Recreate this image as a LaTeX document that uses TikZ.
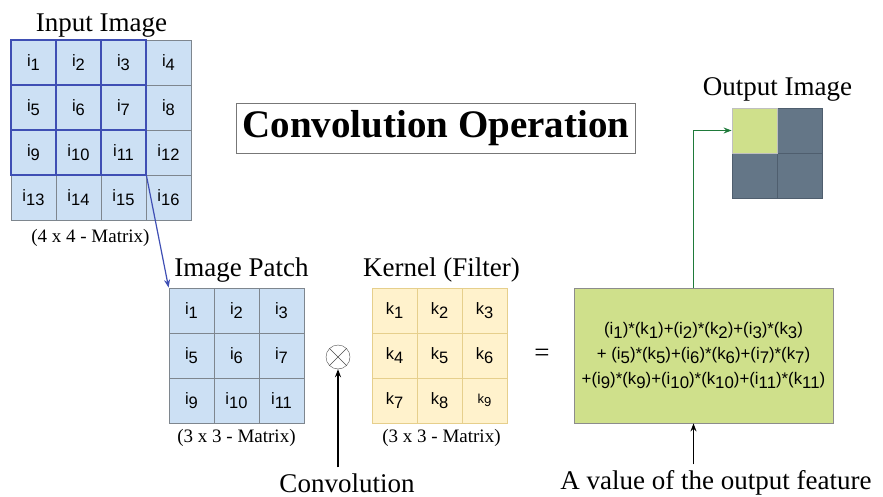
\documentclass[tikz,border=0pt]{standalone}
\usepackage{fontspec}
\setmainfont{Liberation Serif}
\setsansfont{Liberation Sans}
\usepackage{xcolor}
\usepackage{tikz}
\usetikzlibrary{arrows.meta,positioning}
\definecolor{patchblue}{HTML}{CCE0F4}
\definecolor{cellline}{HTML}{7E868E}
\definecolor{hiblue}{HTML}{3F4FB4}
\definecolor{kernfill}{HTML}{FFF2CC}
\definecolor{kernline}{HTML}{E6CF8C}
\definecolor{resgreen}{HTML}{CFE08B}
\definecolor{outgray}{HTML}{647687}
\definecolor{outline}{HTML}{4F5E6E}
\definecolor{okgreen}{HTML}{1F7A3A}
\definecolor{framegray}{HTML}{777777}
\newcommand{\idx}[2]{#1\raisebox{-0.25em}{#2}}

\begin{document}
\begin{tikzpicture}[
    x=1pt,y=-1pt,
    cell/.style={draw=cellline,line width=0.8pt,minimum size=45pt,inner sep=0pt,font=\sffamily\fontsize{16.5}{16.5}\selectfont},
    incell/.style={cell,fill=patchblue},
    kcell/.style={cell,fill=kernfill,draw=kernline},
    ocell/.style={draw=outline,line width=0.8pt,minimum size=45pt,inner sep=0pt,fill=outgray},
    heading/.style={inner sep=0pt,font=\fontsize{27}{27}\selectfont},
    sizenote/.style={inner sep=0pt,font=\fontsize{19}{19}\selectfont},
    hilite/.style={draw=hiblue,line width=2pt},
    arrow/.style={-{Stealth[length=8pt,width=6pt]},line width=1.3pt}
  ]
    \useasboundingbox (0,0) rectangle (883,497);

    \foreach \r in {1,...,4}
      \foreach \c in {1,...,4} {
        \pgfmathtruncatemacro{\n}{4*(\r-1)+\c}
        \node[incell] (in-\r-\c) at ({33.5+45*(\c-1)},{62.5+45*(\r-1)}) {\idx{i}{\n}};
      }
    \foreach \r in {1,...,3}
      \foreach \c in {1,...,3}
        \draw[hilite] (in-\r-\c.north west) rectangle (in-\r-\c.south east);
    \node[heading,above=2pt of in-1-2.north east] (inttl) {Input Image};
    \node[sizenote,below=9pt of in-4-2.south east,xshift=-11pt] (insz) {(4 x 4 - Matrix)};

    \node[draw=framegray,line width=0.8pt,minimum width=399pt,minimum height=50pt,
      font=\bfseries\fontsize{39}{39}\selectfont] (head) at (436,128) {Convolution Operation};

    \foreach \r in {1,...,3}
      \foreach \c in {1,...,3} {
        \pgfmathtruncatemacro{\n}{4*(\r-1)+\c}
        \node[incell] (pt-\r-\c) at ({191.5+45*(\c-1)},{310.5+45*(\r-1)}) {\idx{i}{\n}};
      }
    \node[heading,above=5pt of pt-1-2,xshift=5pt] (ptttl) {Image Patch};
    \node[sizenote,below=6pt of pt-3-2] (ptsz) {(3 x 3 - Matrix)};
    \draw[arrow,hiblue,line width=1.2pt] (in-3-3.south east) -- (pt-1-1.north west);

    \foreach \r in {1,...,3}
      \foreach \c in {1,...,3} {
        \pgfmathtruncatemacro{\n}{3*(\r-1)+\c}
        \node[kcell] (kn-\r-\c) at ({394.5+45*(\c-1)},{310.5+45*(\r-1)})
          {\ifnum\n=9 {\fontsize{13}{13}\selectfont\idx{k}{9}}\else\idx{k}{\n}\fi};
      }
    \node[heading,above=5pt of kn-1-2,xshift=2pt] (knttl) {Kernel (Filter)};
    \node[sizenote,below=6pt of kn-3-2,xshift=2pt] (knsz) {(3 x 3 - Matrix)};

    \node[draw=black!70,circle,minimum size=24pt,inner sep=0pt] (conv) at (338,357) {};
    \draw[black!70] (conv.north west) -- (conv.south east) (conv.north east) -- (conv.south west);
    \node[heading,inner sep=6pt] (convlbl) at (347,483) {Convolution};
    \draw[arrow] (conv.south |- convlbl.north) -- (conv.south);

    \node[font=\fontsize{27}{27}\selectfont] (eq) at (542,355) {=};

    \node[draw=black!45,fill=resgreen,line width=0.8pt,minimum width=259pt,minimum height=135pt,
      align=center,font=\sffamily\fontsize{16.8}{25}\selectfont] (res) at (703.5,355.5)
      {(\idx{i}{1})*(\idx{k}{1})+(\idx{i}{2})*(\idx{k}{2})+(\idx{i}{3})*(\idx{k}{3})\\
       + (\idx{i}{5})*(\idx{k}{5})+(\idx{i}{6})*(\idx{k}{6})+(\idx{i}{7})*(\idx{k}{7})\\
       +(\idx{i}{9})*(\idx{k}{9})+(\idx{i}{10})*(\idx{k}{10})+(\idx{i}{11})*(\idx{k}{11})};
    \node[heading,inner sep=6pt] (reslbl) at (716,483) {A value of the output feature};
    \draw[arrow] ([xshift=-10pt]res.south |- reslbl.north) -- ([xshift=-10pt]res.south);

    \foreach \r in {1,2}
      \foreach \c in {1,2}
        \node[ocell] (out-\r-\c) at ({754.5+45*(\c-1)},{130.5+45*(\r-1)}) {};
    \node[ocell,fill=resgreen,draw=black!25] at (out-1-1) {};
    \node[heading,above=6pt of out-1-1.north east] (outttl) {Output Image};
    \draw[arrow,okgreen,line width=1.3pt] ([xshift=-10pt]res.north) |- (out-1-1.west);
  \end{tikzpicture}
\end{document}
